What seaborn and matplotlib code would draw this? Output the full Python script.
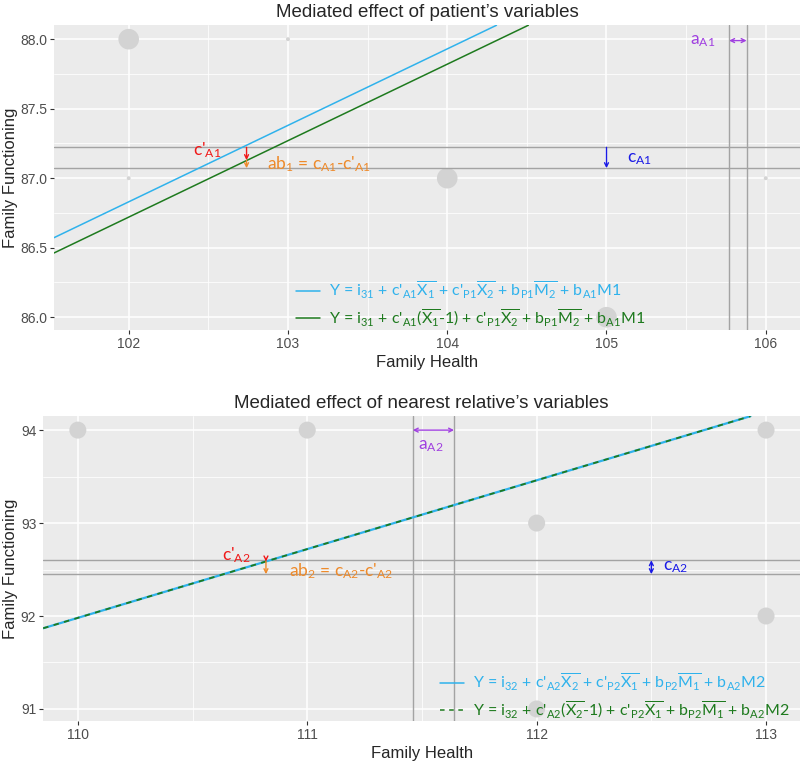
import numpy as np
import pandas as pd
import matplotlib
matplotlib.use("Agg")
import matplotlib.pyplot as plt
from matplotlib.lines import Line2D
from matplotlib.ticker import MultipleLocator
import seaborn as sns

# observed points (grey background dots)
top_x = [102, 103, 102, 104, 105, 106]
top_y = [88, 88, 87, 87, 86, 87]
top_n = [2, 1, 1, 2, 2, 1]
bot_x = [110, 111, 112, 113, 113, 112]
bot_y = [94, 94, 93, 94, 92, 91]
bot_n = [1, 1, 1, 1, 1, 1]

# regression lines: anchor x, y at anchor, slope
top_anchor = 102
top_blue_y0 = 86.83
top_green_y0 = 86.72
top_slope = 0.55
bot_anchor = 110
bot_blue_y0 = 91.98
bot_green_y0 = 91.98
bot_slope = 0.74

# reference lines
top_hlines = [87.222, 87.072]
top_vlines = [105.77, 105.88]
bot_hlines = [92.60, 92.45]
bot_vlines = [111.46, 111.64]

# effect arrows
top_c_x = 105.0
top_cp_x = 102.74
top_cp_end = 87.13
bot_c_x = 112.5
bot_cp_x = 110.82
bot_cp_end = 92.587

top_labels = [r"Y = i$_{31}$ + c'$_{A1}\overline{X_1}$ + c'$_{P1}\overline{X_2}$ + b$_{P1}\overline{M_2}$ + b$_{A1}$M1",
              r"Y = i$_{31}$ + c'$_{A1}$($\overline{X_1}$-1) + c'$_{P1}\overline{X_2}$ + b$_{P1}\overline{M_2}$ + b$_{A1}$M1"]
bot_labels = [r"Y = i$_{32}$ + c'$_{A2}\overline{X_2}$ + c'$_{P2}\overline{X_1}$ + b$_{P2}\overline{M_1}$ + b$_{A2}$M2",
              r"Y = i$_{32}$ + c'$_{A2}$($\overline{X_2}$-1) + c'$_{P2}\overline{X_1}$ + b$_{P2}\overline{M_1}$ + b$_{A2}$M2"]

BLUE = "#2FB2EC"
GREEN = "#1E7A1E"
RED = "#F01818"
ORANGE = "#EE8A2A"
NAVY = "#1A1AE6"
PURPLE = "#A040E0"
HGREY = "#A3A3A3"

sns.set_theme(style="darkgrid", rc={
    "axes.facecolor": "#EBEBEB",
    "grid.color": "white",
    "axes.edgecolor": "none",
})
plt.rcParams["font.family"] = ["Liberation Sans", "DejaVu Sans"]
plt.rcParams["mathtext.fontset"] = "custom"
plt.rcParams["mathtext.rm"] = "Lato"
plt.rcParams["mathtext.it"] = "Lato"
plt.rcParams["mathtext.bf"] = "Lato:bold"
plt.rcParams["mathtext.sf"] = "Lato"

fig = plt.figure(figsize=(8, 7.66), dpi=100)
ax1 = fig.add_axes([0.0675, 0.569, 0.9325, 0.398])
ax2 = fig.add_axes([0.054, 0.0587, 0.946, 0.398])

ann_font = dict(family="Lato", fontsize=12.5)
LEG_SIZE = 11.5


def style_axis(ax, xlim, ylim, xmaj, ymaj, yfmt, ylab_x):
    ax.set_xlim(*xlim)
    ax.set_ylim(*ylim)
    ax.xaxis.set_major_locator(MultipleLocator(xmaj))
    ax.xaxis.set_minor_locator(MultipleLocator(xmaj / 2))
    ax.yaxis.set_major_locator(MultipleLocator(ymaj))
    ax.yaxis.set_minor_locator(MultipleLocator(ymaj / 2))
    ax.yaxis.set_major_formatter(yfmt)
    ax.grid(which="major", color="white", linewidth=1.1)
    ax.grid(which="minor", color="white", linewidth=0.55)
    ax.tick_params(which="major", length=3, width=0.8, color="#333333",
                   labelsize=10, labelcolor="#4D4D4D", pad=2,
                   bottom=True, left=True)
    ax.tick_params(which="minor", length=0)
    ax.set_xlabel("Family Health", fontsize=12, labelpad=3)
    ax.set_ylabel("Family Functioning", fontsize=12)
    ax.yaxis.set_label_coords(ylab_x, 0.5)
    for s in ax.spines.values():
        s.set_visible(False)


def arrow(ax, xy0, xy1, color, style="->"):
    ax.annotate("", xy=xy1, xytext=xy0,
                arrowprops=dict(arrowstyle=style, color=color, lw=1.0,
                                shrinkA=0, shrinkB=0, mutation_scale=7),
                zorder=5)


# ---- top panel ----
top_df = pd.DataFrame({"x": top_x, "y": top_y, "n": top_n})
sns.scatterplot(data=top_df, x="x", y="y", size="n", sizes=(8, 220),
                color="#D3D3D3", edgecolor="none", legend=False, ax=ax1, zorder=2)
for h in top_hlines:
    ax1.axhline(h, color=HGREY, lw=1.0, zorder=3)
for v in top_vlines:
    ax1.axvline(v, color=HGREY, lw=1.0, zorder=3)
ax1.axline((top_anchor, top_blue_y0), slope=top_slope, color=BLUE, lw=1.1, zorder=4)
ax1.axline((top_anchor, top_green_y0), slope=top_slope, color=GREEN, lw=1.1, zorder=4)

arrow(ax1, (top_c_x, top_hlines[0]), (top_c_x, top_hlines[1]), NAVY)
arrow(ax1, (top_cp_x, top_hlines[0]), (top_cp_x, top_cp_end), RED)
arrow(ax1, (top_cp_x, top_cp_end), (top_cp_x, top_hlines[1]), ORANGE)
arrow(ax1, (top_vlines[0], 87.99), (top_vlines[1], 87.99), PURPLE, "<->")

ax1.text(105.68, 87.99, r"a$_{A1}$", color=PURPLE, ha="right", va="center", **ann_font)
ax1.text(105.13, 87.14, r"c$_{A1}$", color=NAVY, ha="left", va="center", **ann_font)
ax1.text(102.58, 87.20, r"c'$_{A1}$", color=RED, ha="right", va="center", **ann_font)
ax1.text(102.87, 87.10, r"ab$_1$ = c$_{A1}$-c'$_{A1}$", color=ORANGE, ha="left",
         va="center", **ann_font)

style_axis(ax1, (101.531, 106.215), (85.907, 88.10), 1, 0.5,
           plt.FormatStrFormatter("%.1f"), -0.048)
ax1.set_title("Mediated effect of patient\u2019s variables", fontsize=13.5, pad=6)

h1 = [Line2D([], [], color=BLUE, lw=1.1), Line2D([], [], color=GREEN, lw=1.1)]
ax1.legend(h1, top_labels, loc="lower left", bbox_to_anchor=(0.305, -0.04),
           frameon=False, prop=dict(family="Lato", size=LEG_SIZE),
           labelcolor=[BLUE, GREEN], handlelength=1.5, handletextpad=0.6,
           labelspacing=0.4)

# ---- bottom panel ----
bot_df = pd.DataFrame({"x": bot_x, "y": bot_y, "n": bot_n})
sns.scatterplot(data=bot_df, x="x", y="y", s=150, color="#D3D3D3",
                edgecolor="none", legend=False, ax=ax2, zorder=2)
for h in bot_hlines:
    ax2.axhline(h, color=HGREY, lw=1.0, zorder=3)
for v in bot_vlines:
    ax2.axvline(v, color=HGREY, lw=1.0, zorder=3)
ax2.axline((bot_anchor, bot_blue_y0), slope=bot_slope, color=BLUE, lw=1.6, zorder=4)
ax2.axline((bot_anchor, bot_green_y0), slope=bot_slope, color=GREEN, lw=1.3,
           ls=(0, (3, 3)), zorder=4)

arrow(ax2, (bot_c_x, bot_hlines[0]), (bot_c_x, bot_hlines[1]), NAVY, "<->")
arrow(ax2, (bot_cp_x, 92.62), (bot_cp_x, bot_cp_end), RED)
arrow(ax2, (bot_cp_x, bot_cp_end), (bot_cp_x, bot_hlines[1]), ORANGE)
arrow(ax2, (bot_vlines[0], 94.0), (bot_vlines[1], 94.0), PURPLE, "<->")

ax2.text(111.54, 93.83, r"a$_{A2}$", color=PURPLE, ha="center", va="center", **ann_font)
ax2.text(112.55, 92.525, r"c$_{A2}$", color=NAVY, ha="left", va="center", **ann_font)
ax2.text(110.63, 92.65, r"c'$_{A2}$", color=RED, ha="left", va="center", **ann_font)
ax2.text(110.92, 92.48, r"ab$_2$ = c$_{A2}$-c'$_{A2}$", color=ORANGE, ha="left",
         va="center", **ann_font)

style_axis(ax2, (109.849, 113.148), (90.87, 94.15), 1, 1,
           plt.FormatStrFormatter("%d"), -0.033)
ax2.set_title("Mediated effect of nearest relative\u2019s variables", fontsize=13.5, pad=6)

h2 = [Line2D([], [], color=BLUE, lw=1.1),
      Line2D([], [], color=GREEN, lw=1.1, ls=(0, (3, 3)))]
ax2.legend(h2, bot_labels, loc="lower left", bbox_to_anchor=(0.505, -0.045),
           frameon=False, prop=dict(family="Lato", size=LEG_SIZE),
           labelcolor=[BLUE, GREEN], handlelength=1.5, handletextpad=0.6,
           labelspacing=0.4)

fig.savefig("out.png", dpi=100)
